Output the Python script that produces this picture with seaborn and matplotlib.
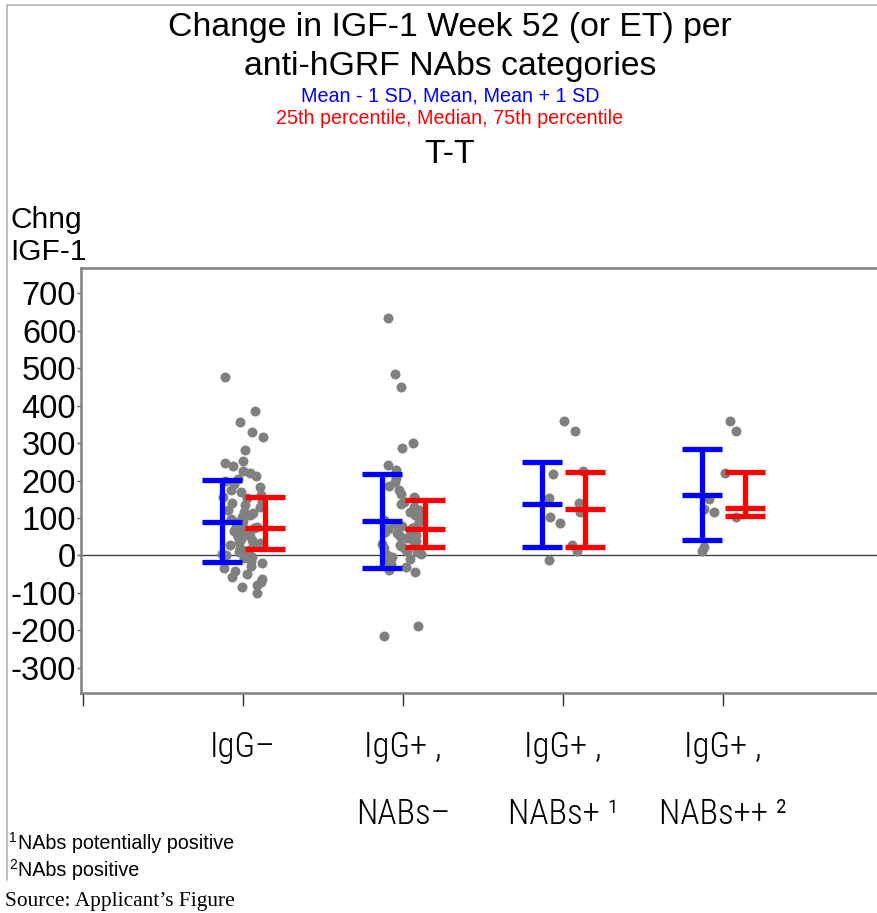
import numpy as np
import pandas as pd
import matplotlib
matplotlib.use("Agg")
import matplotlib.pyplot as plt
from matplotlib.lines import Line2D
from matplotlib import font_manager
import seaborn as sns

# ---- data -------------------------------------------------------------
categories = ["IgG\u2013", "IgG+ ,\nNABs\u2013", "IgG+ ,\nNABs+ \u00b9", "IgG+ ,\nNABs++ \u00b2"]

chg_igg_neg = [476, 385, 356, 329, 316, 281, 252, 247, 238, 226, 220, 212, 205, 198,
               190, 182, 175, 168, 160, 155, 152, 146, 140, 134, 128, 122, 117, 112,
               107, 102, 97, 92, 88, 84, 80, 77, 74, 71, 68, 64, 60, 56, 52, 48, 44,
               40, 36, 32, 28, 24, 20, 17, 14, 11, 8, 5, 2, -3, -8, -14, -20, -27,
               -34, -42, -50, -57, -62, -70, -78, -85, -100]
chg_nabs_neg = [633, 484, 449, 300, 287, 241, 228, 207, 196, 185, 175, 165, 157, 150,
                143, 136, 129, 122, 115, 108, 101, 95, 89, 84, 79, 75, 72, 70, 67, 63,
                59, 55, 51, 47, 43, 39, 35, 31, 27, 24, 21, 17, 13, 9, 5, 1, -4, -9,
                -15, -22, -30, -38, -44, -188, -214]
chg_nabs_pos = [359, 332, 225, 217, 153, 140, 116, 103, 87, 28, 12, -12]
chg_nabs_pospos = [359, 332, 220, 151, 125, 115, 103, 23, 12]

# summary statistics per category
mean_minus_sd = [-18, -33, 23, 41]
mean_vals = [89, 92, 137, 161]
mean_plus_sd = [201, 217, 250, 284]
pct25 = [17, 23, 23, 104]
median_vals = [73, 71, 124, 127]
pct75 = [156, 148, 223, 223]

y_ticks = [700, 600, 500, 400, 300, 200, 100, 0, -100, -200, -300]

groups = [chg_igg_neg, chg_nabs_neg, chg_nabs_pos, chg_nabs_pospos]
df = pd.DataFrame({
    "group": np.concatenate([[c] * len(g) for c, g in zip(categories, groups)]),
    "chg": np.concatenate(groups),
})

# ---- figure -----------------------------------------------------------
sns.set_theme(style="white")
plt.rcParams["font.family"] = ["Liberation Sans", "DejaVu Sans"]
plt.rcParams["text.color"] = "black"

# pick a condensed face for the category labels when one is available
installed = {f.name for f in font_manager.fontManager.ttflist}
narrow = next((n for n in ["Liberation Sans Narrow", "Roboto Condensed",
                           "Open Sans Condensed", "Arial Narrow"] if n in installed),
              None)

W, H = 878, 913
fig = plt.figure(figsize=(W / 100, H / 100), dpi=100)
ax = fig.add_axes([81 / W, 1 - 693 / H, 1 - 81 / W, (693 - 268) / H])

np.random.seed(7)
sns.stripplot(data=df, x="group", y="chg", order=categories, jitter=0.13,
              color="#808080", size=7.2, linewidth=0, ax=ax, zorder=2)

# zero reference line
ax.axhline(0, color="#404040", lw=1.0, zorder=1)

# mean +/- SD (blue) and quartiles (red)
off = 0.128
half = 0.125
lw = 3.8
for i in range(len(categories)):
    xb = i - off
    ax.vlines(xb, mean_minus_sd[i], mean_plus_sd[i], color="#0000FF", lw=lw, zorder=3)
    ax.hlines([mean_minus_sd[i], mean_vals[i], mean_plus_sd[i]], xb - half, xb + half,
              color="#0000FF", lw=lw, zorder=3)
    xr = i + off + 0.01
    ax.vlines(xr, pct25[i], pct75[i], color="#FF0000", lw=lw, zorder=4)
    ax.hlines([pct25[i], median_vals[i], pct75[i]], xr - half, xr + half,
              color="#FF0000", lw=lw, zorder=4)

ax.set_xlim(-1.0125, 3.97)
ax.set_ylim(-366.7, 766.7)
ax.set_xticks([-1, 0, 1, 2, 3])
if narrow:
    ax.set_xticklabels([""] + categories, fontfamily=narrow, fontsize=25,
                       fontweight="light", linespacing=2.25, color="black")
else:
    ax.set_xticklabels([""] + categories, fontsize=21, linespacing=2.6,
                       color="black")
ax.set_yticks(y_ticks)
ax.set_yticklabels([str(v) for v in y_ticks], fontsize=23.5, color="black")
ax.set_xlabel("")
ax.set_ylabel("")

for side in ("top", "bottom", "left"):
    ax.spines[side].set_color("#808080")
    ax.spines[side].set_linewidth(1.8)
ax.spines["right"].set_visible(False)
ax.tick_params(axis="x", direction="out", length=9, width=1, color="#303030",
               pad=18, bottom=True)
ax.tick_params(axis="y", direction="out", length=3, width=1, color="#606060",
               pad=0.5, left=True)

# ---- titles and notes -------------------------------------------------
cx = 450 / W
fig.text(cx, 1 - 36 / H, "Change in IGF-1 Week 52 (or ET) per", ha="center",
         va="baseline", fontsize=24.3)
fig.text(cx, 1 - 75 / H, "anti-hGRF NAbs categories", ha="center",
         va="baseline", fontsize=24.3)
fig.text(cx, 1 - 101 / H, "Mean - 1 SD, Mean, Mean + 1 SD", ha="center",
         va="baseline", fontsize=14.2, color="#0000FF")
fig.text(cx, 1 - 124 / H, "25th percentile, Median, 75th percentile", ha="center",
         va="baseline", fontsize=14.2, color="#FF0000")
fig.text(cx, 1 - 163 / H, "T-T", ha="center", va="baseline", fontsize=24.3)

fig.text(10 / W, 1 - 228 / H, "Chng", ha="left", va="baseline", fontsize=21.5)
fig.text(10 / W, 1 - 260 / H, "IGF-1", ha="left", va="baseline", fontsize=21.5)

fig.text(9 / W, 1 - 842 / H, "1", ha="left", va="baseline", fontsize=10)
fig.text(18 / W, 1 - 849 / H, "NAbs potentially positive", ha="left",
         va="baseline", fontsize=14.2)
fig.text(9 / W, 1 - 869 / H, "2", ha="left", va="baseline", fontsize=10)
fig.text(18 / W, 1 - 876 / H, "NAbs positive", ha="left", va="baseline",
         fontsize=14.2)
fig.text(5 / W, 1 - 906 / H, "Source: Applicant\u2019s Figure", ha="left",
         va="baseline", fontsize=15.4, fontfamily="Liberation Serif")

# page frame
fig.add_artist(Line2D([7 / W, 7 / W], [1 - 5 / H, 1 - 880 / H],
                      transform=fig.transFigure, color="#b4b4b4", lw=1.2))
fig.add_artist(Line2D([7 / W, 1], [1 - 5 / H, 1 - 5 / H],
                      transform=fig.transFigure, color="#b4b4b4", lw=1.2))

fig.savefig("out.png", dpi=100)
